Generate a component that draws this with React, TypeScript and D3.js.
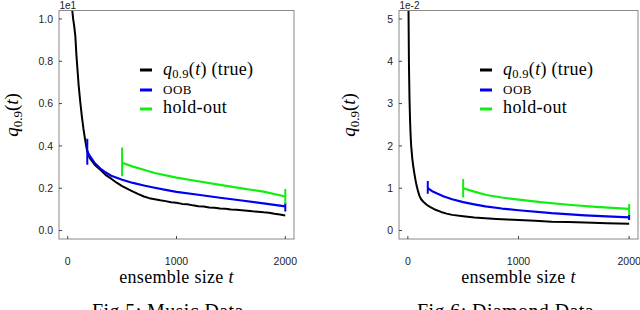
import * as d3 from 'd3';

// Fig 5: Music Data (y in units of 1e1)
const musicTrueT = [1, 10, 20, 30, 40, 50, 60, 70, 80, 90, 100, 115, 130, 145, 160, 175, 190, 200, 250, 300, 350, 400, 450, 500, 550, 600, 650, 700, 750, 800, 850, 900, 950, 1000, 1050, 1100, 1150, 1200, 1250, 1300, 1350, 1400, 1450, 1500, 1550, 1600, 1650, 1700, 1750, 1800, 1850, 1900, 1950, 2000];
const musicTrueQ = [3.2, 1.75, 1.38, 1.18, 1.05, 1.0, 0.965, 0.92, 0.83, 0.76, 0.69, 0.61, 0.54, 0.48, 0.43, 0.385, 0.36, 0.345, 0.31, 0.287, 0.262, 0.245, 0.226, 0.21, 0.197, 0.184, 0.172, 0.161, 0.153, 0.148, 0.143, 0.139, 0.134, 0.131, 0.126, 0.124, 0.119, 0.115, 0.114, 0.109, 0.108, 0.104, 0.103, 0.099, 0.098, 0.096, 0.094, 0.091, 0.089, 0.086, 0.084, 0.079, 0.076, 0.071];
const musicOobT = [180, 200, 250, 300, 350, 400, 500, 600, 700, 800, 900, 1000, 1200, 1400, 1600, 1800, 2000];
const musicOobQ = [0.375, 0.355, 0.318, 0.293, 0.274, 0.259, 0.24, 0.225, 0.213, 0.202, 0.192, 0.183, 0.169, 0.155, 0.142, 0.128, 0.114];
const musicOobBars = [[0.311, 0.434], [0.09, 0.131]];
const musicHoldT = [500, 600, 700, 800, 1000, 1200, 1400, 1600, 1800, 2000];
const musicHoldQ = [0.32, 0.302, 0.287, 0.272, 0.25, 0.233, 0.216, 0.199, 0.184, 0.161];
const musicHoldBars = [[0.256, 0.392], [0.126, 0.196]];
const musicYTicks = [0, 0.2, 0.4, 0.6, 0.8, 1.0];

// Fig 6: Diamond Data (y in units of 1e-2)
const diamondTrueT = [1, 5, 10, 15, 20, 25, 30, 40, 50, 60, 70, 80, 90, 105, 120, 140, 170, 200, 250, 300, 350, 400, 500, 600, 700, 800, 900, 1000, 1150, 1300, 1450, 1600, 1800, 2000];
const diamondTrueQ = [9.0, 5.5, 3.9, 3.1, 2.6, 2.25, 2.0, 1.7, 1.5, 1.33, 1.18, 1.05, 0.95, 0.82, 0.74, 0.68, 0.61, 0.56, 0.49, 0.44, 0.4, 0.37, 0.34, 0.31, 0.29, 0.275, 0.26, 0.25, 0.23, 0.21, 0.2, 0.19, 0.175, 0.16];
const diamondOobT = [180, 220, 260, 320, 400, 500, 600, 700, 850, 1000, 1300, 1600, 2000];
const diamondOobQ = [1.0, 0.93, 0.88, 0.81, 0.74, 0.67, 0.62, 0.57, 0.52, 0.48, 0.41, 0.36, 0.31];
const diamondOobBars = [[0.87, 1.17], [0.25, 0.37]];
const diamondHoldT = [500, 600, 710, 850, 1000, 1200, 1450, 1700, 2000];
const diamondHoldQ = [1.0, 0.92, 0.84, 0.78, 0.73, 0.67, 0.61, 0.56, 0.51];
const diamondHoldBars = [[0.78, 1.22], [0.37, 0.63]];
const diamondYTicks = [0, 1, 2, 3, 4, 5];

const xTicks = [0, 1000, 2000];

const BLUE = '#0000f0';
const GREEN = '#10ee10';
const SERIF = '"Liberation Serif", serif';
const SANS = '"Liberation Sans", Arial, sans-serif';

function Panel(props: any) {
  const { id, x0, x1, yMax, yTicks, yFmt, expo, trueT, trueQ, oobT, oobQ, oobBars, holdT, holdQ, holdBars, legendX, yLabelX, caption, captionX } = props;
  const top = 10.5, bottom = 239;
  const x = d3.scaleLinear().domain([-80, 2080]).range([x0, x1]);
  const y = d3.scaleLinear().domain([-0.04 * yMax, 1.04 * yMax]).range([bottom, top]);
  const line = (ts: number[], qs: number[]) =>
    d3.line<number>().x((_, i) => x(ts[i])).y((d) => y(d))(qs) || '';
  const bars = (ts: number[], b: number[][], color: string) =>
    [ts[0], ts[ts.length - 1]].map((t, i) => (
      <line key={i} x1={x(t)} x2={x(t)} y1={y(b[i][0])} y2={y(b[i][1])} stroke={color} strokeWidth={2} />
    ));
  const cx = (x0 + x1) / 2;
  const legendRows = [
    { color: '#000', y: 70 },
    { color: BLUE, y: 90 },
    { color: GREEN, y: 109 },
  ];
  return (
    <g>
      <defs>
        <clipPath id={id}>
          <rect x={x0} y={top} width={x1 - x0} height={bottom - top} />
        </clipPath>
      </defs>
      <g clipPath={`url(#${id})`} fill="none" strokeLinejoin="round">
        <path d={line(trueT, trueQ)} stroke="#000" strokeWidth={2} />
        <path d={line(oobT, oobQ)} stroke={BLUE} strokeWidth={2.2} />
        <path d={line(holdT, holdQ)} stroke={GREEN} strokeWidth={2.2} />
        {bars(oobT, oobBars, BLUE)}
        {bars(holdT, holdBars, GREEN)}
      </g>
      <rect x={x0} y={top} width={x1 - x0} height={bottom - top} fill="none" stroke="#888" strokeWidth={1} />
      {yTicks.map((v: number) => (
        <g key={v}>
          <line x1={x0} x2={x0 + 3} y1={y(v)} y2={y(v)} stroke="#444" />
          <text x={x0 - 6} y={y(v) + 3.8} textAnchor="end" fontFamily={SANS} fontSize={10.5} fill="#222">{yFmt(v)}</text>
        </g>
      ))}
      {xTicks.map((v) => (
        <g key={v}>
          <line x1={x(v)} x2={x(v)} y1={bottom} y2={bottom - 3} stroke="#444" />
          <text x={x(v)} y={265} textAnchor="middle" fontFamily={SANS} fontSize={10.5} fill="#222">{v}</text>
        </g>
      ))}
      <text x={x0 + 0.5} y={9} fontFamily={SANS} fontSize={10} fill="#222">{expo}</text>
      <text x={cx} y={283} textAnchor="middle" fontFamily={SERIF} fontSize={18} letterSpacing={0.3}>
        ensemble size <tspan fontStyle="italic">t</tspan>
      </text>
      <text transform={`translate(${yLabelX},115) rotate(-90)`} textAnchor="middle" fontFamily={SERIF} fontSize={19}>
        <tspan fontStyle="italic">q</tspan>
        <tspan fontSize={13} dy={4}>0.9</tspan>
        <tspan dy={-4}>(</tspan>
        <tspan fontStyle="italic">t</tspan>
        <tspan>)</tspan>
      </text>
      {legendRows.map((r, i) => (
        <line key={i} x1={legendX} x2={legendX + 12} y1={r.y} y2={r.y} stroke={r.color} strokeWidth={3} />
      ))}
      <text x={legendX + 23} y={75} fontFamily={SERIF} fontSize={18} letterSpacing={0.3}>
        <tspan fontStyle="italic">q</tspan>
        <tspan fontSize={12.5} dy={3}>0.9</tspan>
        <tspan dy={-3}>(</tspan>
        <tspan fontStyle="italic">t</tspan>
        <tspan>) (true)</tspan>
      </text>
      <text x={legendX + 23} y={94} fontFamily={SERIF} fontSize={13} letterSpacing={0.5}>OOB</text>
      <text x={legendX + 23} y={113} fontFamily={SERIF} fontSize={18} letterSpacing={0.4}>hold-out</text>
      <text x={captionX} y={318} fontFamily={SERIF} fontSize={20} letterSpacing={0.4}>{caption}</text>
    </g>
  );
}

export default function App() {
  return (
    <svg width={640} height={310} viewBox="0 0 640 310" style={{ position: 'fixed', left: 0, top: 0, background: '#fff' }}>
      <rect width={640} height={310} fill="#fff" />
      <Panel
        id="clip-music" x0={59} x1={294} yMax={1} yTicks={musicYTicks} yFmt={d3.format('.1f')} expo="1e1"
        trueT={musicTrueT} trueQ={musicTrueQ} oobT={musicOobT} oobQ={musicOobQ} oobBars={musicOobBars}
        holdT={musicHoldT} holdQ={musicHoldQ} holdBars={musicHoldBars}
        legendX={140} yLabelX={18} caption="Fig 5: Music Data" captionX={92}
      />
      <Panel
        id="clip-diamond" x0={399} x1={638} yMax={5} yTicks={diamondYTicks} yFmt={d3.format('d')} expo="1e-2"
        trueT={diamondTrueT} trueQ={diamondTrueQ} oobT={diamondOobT} oobQ={diamondOobQ} oobBars={diamondOobBars}
        holdT={diamondHoldT} holdQ={diamondHoldQ} holdBars={diamondHoldBars}
        legendX={480} yLabelX={355} caption="Fig 6: Diamond Data" captionX={417}
      />
    </svg>
  );
}
